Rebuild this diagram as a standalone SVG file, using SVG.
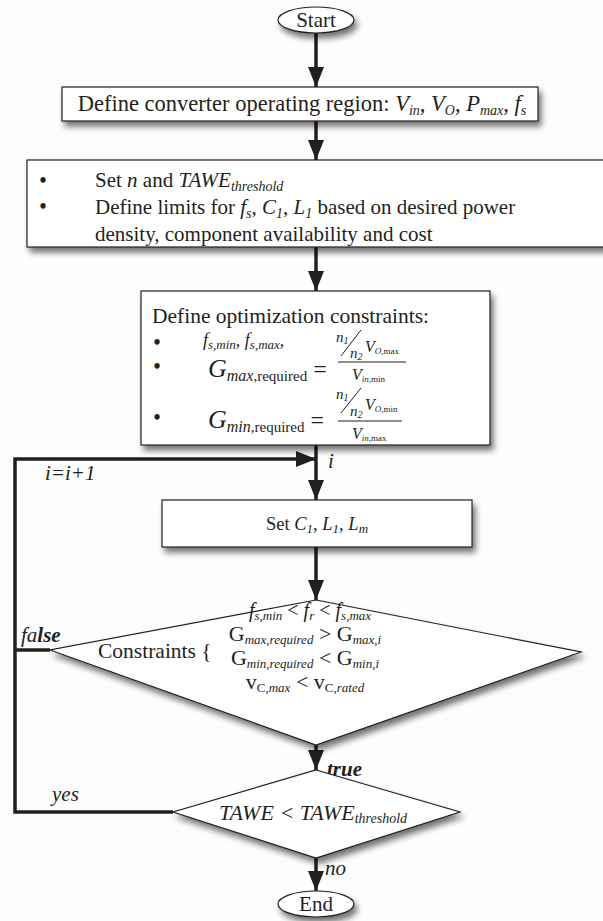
<svg xmlns="http://www.w3.org/2000/svg" width="603" height="921" viewBox="0 0 603 921">
<defs>
<filter id="sh" x="-10%" y="-20%" width="130%" height="160%">
<feGaussianBlur in="SourceAlpha" stdDeviation="3"/>
<feOffset dx="3" dy="5" result="b"/>
<feComponentTransfer><feFuncA type="linear" slope="0.55"/></feComponentTransfer>
<feMerge><feMergeNode/><feMergeNode in="SourceGraphic"/></feMerge>
</filter>
<marker id="ah" markerUnits="userSpaceOnUse" markerWidth="20" markerHeight="16" refX="20" refY="8" orient="auto">
<path d="M0,0 L20,8 L0,16 z" fill="#231f20"/>
</marker>
<style>
text{font-family:"Liberation Serif","Times New Roman",serif;fill:#231f20}
.shape{fill:#fff;stroke:#231f20;stroke-width:1.2}
.conn{fill:none;stroke:#231f20;stroke-width:3.5}
.i{font-style:italic}
.b{font-weight:bold}
.bul{font-size:20px;font-weight:bold}
</style>
</defs>
<rect width="603" height="921" fill="#fdfdfd"/>

<g id="connectors">
<line class="conn" x1="316" y1="33" x2="316" y2="87" marker-end="url(#ah)"/>
<line class="conn" x1="316" y1="121" x2="316" y2="160" marker-end="url(#ah)"/>
<line class="conn" x1="316" y1="247" x2="316" y2="291" marker-end="url(#ah)"/>
<line class="conn" x1="316" y1="445" x2="316" y2="500" marker-end="url(#ah)"/>
<polyline class="conn" points="50,650 15,650"/>
<polyline class="conn" points="173,812 15,812 15,459 316,459" marker-end="url(#ah)"/>
<line class="conn" x1="316" y1="547" x2="316" y2="600" marker-end="url(#ah)"/>
<line class="conn" x1="316" y1="745" x2="316" y2="770" marker-end="url(#ah)"/>
<line class="conn" x1="316" y1="858" x2="316" y2="891" marker-end="url(#ah)"/>
<text x="328" y="468" font-size="21" class="i">i</text>
<text x="45" y="480" font-size="21" class="i">i=i+1</text>
<text x="21" y="642" font-size="21" class="i">fa<tspan class="b">lse</tspan></text>
<text x="327" y="776" font-size="21" class="i b">true</text>
<text x="52" y="801" font-size="21" class="i">yes</text>
<text x="325" y="875" font-size="21" class="i">no</text>
</g>

<g id="start">
<ellipse class="shape" cx="316" cy="20" rx="38" ry="13" filter="url(#sh)"/>
<text x="316" y="27" font-size="21" text-anchor="middle">Start</text>
</g>

<g id="region">
<rect class="shape" x="62" y="87" width="476" height="34" filter="url(#sh)"/>
<text x="302" y="111" font-size="22.5" text-anchor="middle">Define converter operating region: <tspan class="i">V</tspan><tspan class="i" font-size="14" dy="4">in</tspan><tspan dy="-4">, </tspan><tspan class="i">V</tspan><tspan class="i" font-size="14" dy="4">O</tspan><tspan dy="-4">, </tspan><tspan class="i">P</tspan><tspan class="i" font-size="14" dy="4">max</tspan><tspan dy="-4">, </tspan><tspan class="i">f</tspan><tspan class="i" font-size="14" dy="4">s</tspan></text>
</g>

<g id="limits">
<rect class="shape" x="27" y="160" width="590" height="87" filter="url(#sh)"/>
<text x="43" y="187" class="bul" text-anchor="middle">•</text>
<text x="43" y="213" class="bul" text-anchor="middle">•</text>
<text x="95" y="187" font-size="21">Set <tspan class="i">n</tspan> and <tspan class="i">TAWE</tspan><tspan class="i" font-size="14" dy="4">threshold</tspan></text>
<text x="95" y="214" font-size="21">Define limits for <tspan class="i">f</tspan><tspan class="i" font-size="14" dy="4">s</tspan><tspan dy="-4">, </tspan><tspan class="i">C</tspan><tspan class="i" font-size="14" dy="4">1</tspan><tspan dy="-4">, </tspan><tspan class="i">L</tspan><tspan class="i" font-size="14" dy="4">1</tspan><tspan dy="-4"> based on desired power</tspan></text>
<text x="95" y="241" font-size="21">density, component availability and cost</text>
</g>

<g id="constraints">
<rect class="shape" x="141" y="291" width="349" height="154" filter="url(#sh)"/>
<text x="152" y="323" font-size="21.5">Define optimization constraints:</text>
<text x="157" y="349" class="bul" text-anchor="middle">•</text>
<text x="157" y="373" class="bul" text-anchor="middle">•</text>
<text x="157" y="424" class="bul" text-anchor="middle">•</text>
<text x="203" y="346" font-size="18" class="i">f<tspan font-size="13" dy="3">s,min</tspan><tspan dy="-3">, f</tspan><tspan font-size="13" dy="3">s,max</tspan><tspan dy="-3">,</tspan></text>
<text x="208" y="377" font-size="26"><tspan class="i">G</tspan><tspan class="i" font-size="16" dy="4">max</tspan><tspan font-size="15">,required</tspan><tspan dy="-4" font-size="24"> =</tspan></text>
<text x="208" y="428" font-size="26"><tspan class="i">G</tspan><tspan class="i" font-size="16" dy="4">min</tspan><tspan font-size="15">,required</tspan><tspan dy="-4" font-size="24"> =</tspan></text>
<g font-size="15">
<text x="336" y="342" class="i">n<tspan font-size="10" dy="2">1</tspan></text>
<line x1="341" y1="356" x2="361" y2="330" stroke="#231f20" stroke-width="1"/>
<text x="350" y="358" class="i">n<tspan font-size="10" dy="2">2</tspan></text>
<text x="365" y="352" class="i" font-size="16">V<tspan font-size="9" dy="2">O,</tspan><tspan font-size="9" font-style="normal">max</tspan></text>
<line x1="338" y1="362" x2="406" y2="362" stroke="#231f20" stroke-width="1.2"/>
<text x="352" y="380" class="i" font-size="16">V<tspan font-size="9" dy="2">in,</tspan><tspan font-size="9" font-style="normal">min</tspan></text>
<text x="336" y="399" class="i">n<tspan font-size="10" dy="2">1</tspan></text>
<line x1="341" y1="413" x2="361" y2="388" stroke="#231f20" stroke-width="1"/>
<text x="350" y="416" class="i">n<tspan font-size="10" dy="2">2</tspan></text>
<text x="365" y="410" class="i" font-size="16">V<tspan font-size="9" dy="2">O,</tspan><tspan font-size="9" font-style="normal">min</tspan></text>
<line x1="338" y1="421" x2="402" y2="421" stroke="#231f20" stroke-width="1.2"/>
<text x="352" y="439" class="i" font-size="16">V<tspan font-size="9" dy="2">in,</tspan><tspan font-size="9" font-style="normal">max</tspan></text>
</g>
</g>

<g id="setc">
<rect class="shape" x="162" y="500" width="310" height="47" filter="url(#sh)"/>
<text x="317" y="530" font-size="18.5" text-anchor="middle">Set <tspan class="i">C</tspan><tspan class="i" font-size="13" dy="3">1</tspan><tspan dy="-3">, </tspan><tspan class="i">L</tspan><tspan class="i" font-size="13" dy="3">1</tspan><tspan dy="-3">, </tspan><tspan class="i">L</tspan><tspan class="i" font-size="13" dy="3">m</tspan></text>
</g>

<g id="check">
<polygon class="shape" points="316,600 581,652 316,745 50,650" filter="url(#sh)"/>
<text x="98" y="658" font-size="21.5">Constraints {</text>
<text x="310" y="617" font-size="20" text-anchor="middle"><tspan class="i">f</tspan><tspan class="i" font-size="13" dy="3">s,min</tspan><tspan dy="-3"> &lt; </tspan><tspan class="i">f</tspan><tspan class="i" font-size="13" dy="3">r</tspan><tspan dy="-3"> &lt; </tspan><tspan class="i">f</tspan><tspan class="i" font-size="13" dy="3">s,max</tspan></text>
<text x="305" y="641" font-size="22" text-anchor="middle">G<tspan class="i" font-size="13" dy="3">max,required</tspan><tspan dy="-3"> &gt; G</tspan><tspan class="i" font-size="13" dy="3">max,i</tspan></text>
<text x="305" y="665" font-size="22" text-anchor="middle">G<tspan class="i" font-size="13" dy="3">min,required</tspan><tspan dy="-3"> &lt; G</tspan><tspan class="i" font-size="13" dy="3">min,i</tspan></text>
<text x="305" y="689" font-size="22" text-anchor="middle">v<tspan font-size="13" dy="3">C,</tspan><tspan class="i" font-size="13">max</tspan><tspan dy="-3"> &lt; v</tspan><tspan font-size="13" dy="3">C,</tspan><tspan class="i" font-size="13">rated</tspan></text>
</g>

<g id="tawe">
<polygon class="shape" points="316,770 460,812 316,858 173,812" filter="url(#sh)"/>
<text x="313" y="820" font-size="22" text-anchor="middle" class="i">TAWE &lt; TAWE<tspan font-size="14" dy="3">threshold</tspan></text>
</g>

<g id="end">
<ellipse class="shape" cx="316" cy="904" rx="38" ry="13" filter="url(#sh)"/>
<text x="316" y="911" font-size="21" text-anchor="middle">End</text>
</g>
</svg>
